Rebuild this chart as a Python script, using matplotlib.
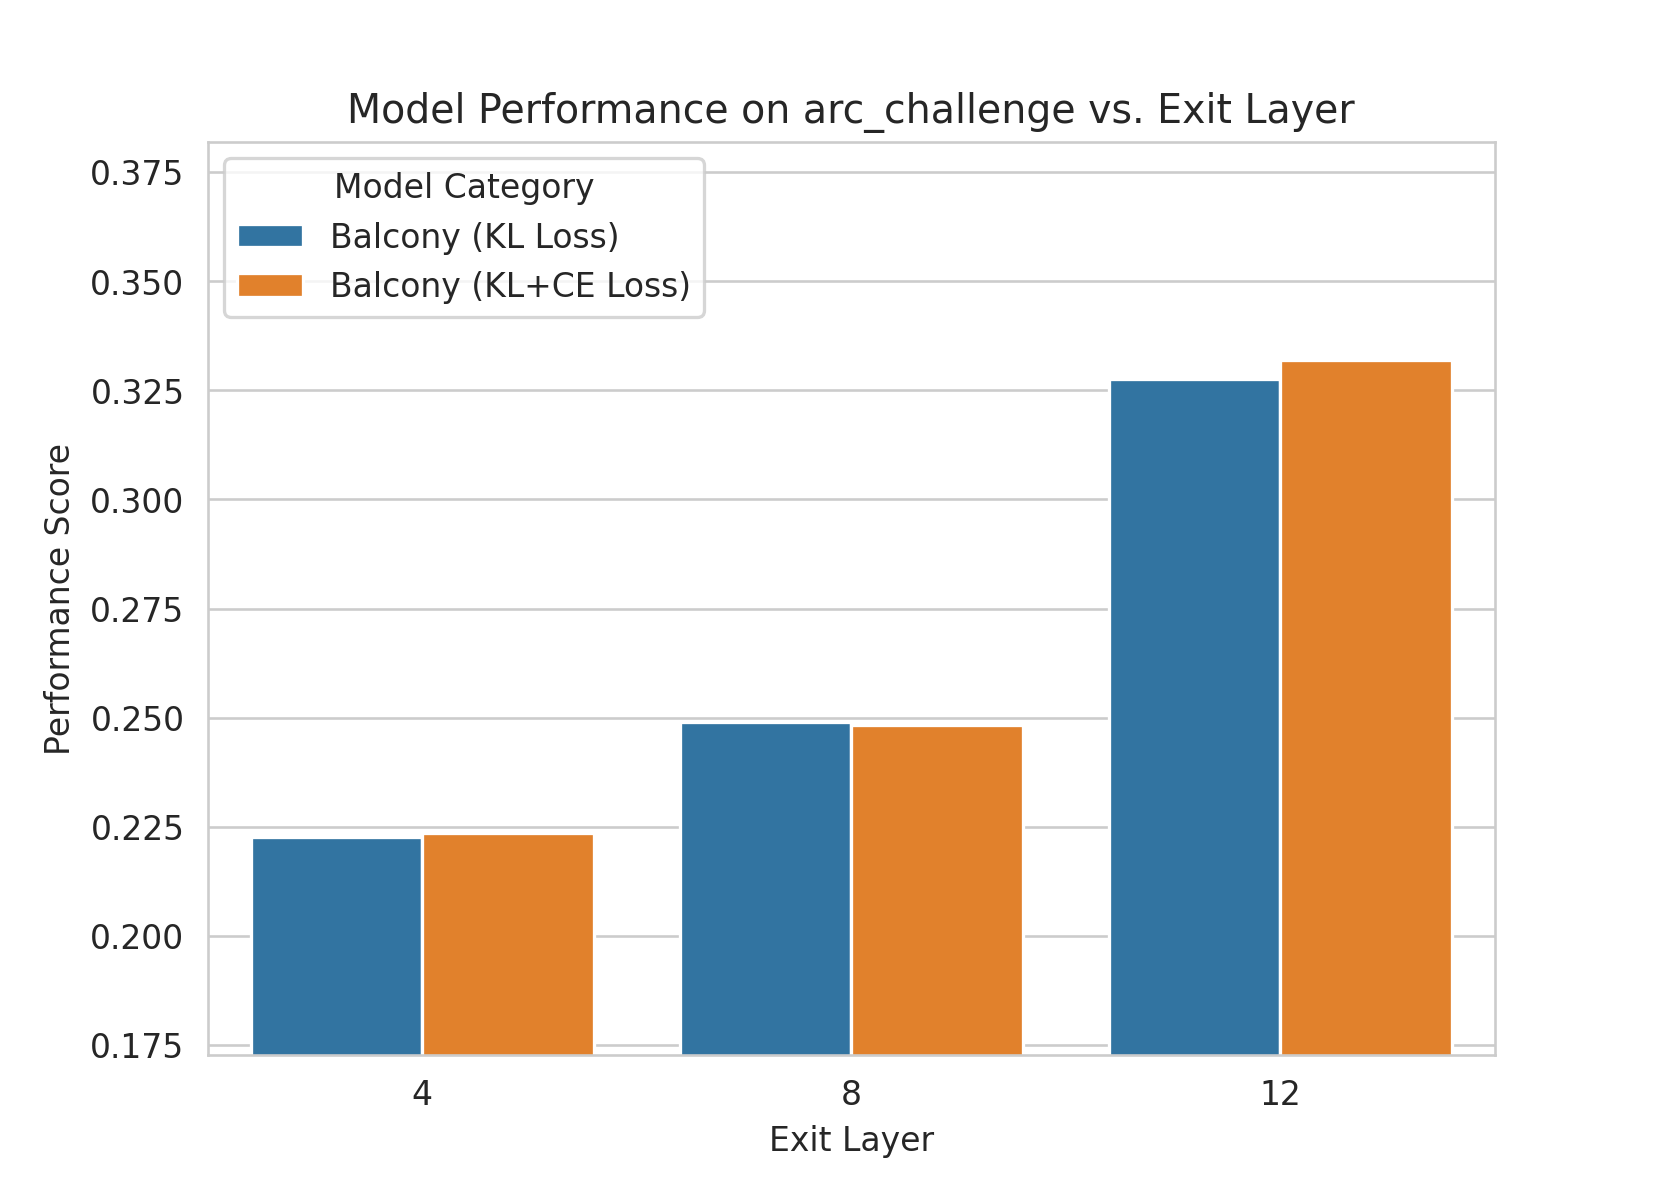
import matplotlib
matplotlib.use("Agg")
import matplotlib.pyplot as plt
import seaborn as sns
import pandas as pd

exit_layers = [4, 8, 12]
kl_loss = [0.2226, 0.2491, 0.3276]
klce_loss = [0.2235, 0.2483, 0.3319]
categories = ["Balcony (KL Loss)", "Balcony (KL+CE Loss)"]

rows = []
for layer, v in zip(exit_layers, kl_loss):
    rows.append({"Exit Layer": layer, "Performance Score": v, "Model Category": categories[0]})
for layer, v in zip(exit_layers, klce_loss):
    rows.append({"Exit Layer": layer, "Performance Score": v, "Model Category": categories[1]})
df = pd.DataFrame(rows)

sns.set_style("whitegrid")
fig, ax = plt.subplots(figsize=(7, 5), dpi=1661 / 7)
sns.barplot(data=df, x="Exit Layer", y="Performance Score", hue="Model Category",
            palette=["#1f77b4", "#ff7f0e"], ax=ax)
allv = kl_loss + klce_loss
ax.set_ylim(min(allv) - 0.05, max(allv) + 0.05)
ax.set_title("Model Performance on arc_challenge vs. Exit Layer")
ax.set_xlabel("Exit Layer")
ax.set_ylabel("Performance Score")
ax.legend(title="Model Category", loc="upper left")
fig.savefig("out.png", dpi=1661 / 7)
